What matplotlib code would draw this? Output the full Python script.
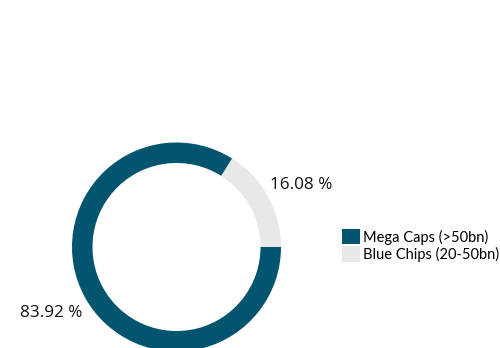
import matplotlib.pyplot as plt
from matplotlib.patches import Patch

# data
labels = ["Mega Caps (>50bn)", "Blue Chips (20-50bn)"]
shares = [83.92, 16.08]
colors = ["#02546F", "#E8E8E8"]

W, H = 500, 348
cx, cy = 176.5, 101.0   # ring centre in pixels (from bottom)
R = 104.5               # outer radius in pixels

fig = plt.figure(figsize=(W / 100, H / 100), dpi=100)
ax = fig.add_axes([0, 0, 1, 1])

# Blue Chips drawn first, counter-clockwise from 3 o'clock
ax.pie(shares[::-1], colors=colors[::-1], startangle=0, counterclock=True,
       radius=1.0, wedgeprops=dict(width=0.196, edgecolor="none"))

ax.set_aspect("auto")
ax.set_xlim(-cx / R, (W - cx) / R)
ax.set_ylim(-cy / R, (H - cy) / R)
ax.axis("off")

# value labels
ax.text(1.195, 0.593, "{:.2f} %".format(shares[1]), ha="center", va="center",
        fontsize=12.3, family="Open Sans", color="#111111")
ax.text(-1.20, -0.632, "{:.2f} %".format(shares[0]), ha="center", va="center",
        fontsize=12.3, family="Open Sans", color="#111111")

handles = [Patch(facecolor=c, edgecolor="none", label=l) for c, l in zip(colors, labels)]
fig.legend(handles=handles, loc="upper left", bbox_to_anchor=(342 / W, 1 - 229 / H),
           frameon=False, borderpad=0, borderaxespad=0, handlelength=1.24,
           handleheight=1.24, handletextpad=0.2, labelspacing=0.12,
           prop=dict(family="Lato", size=10.5))

fig.savefig("out.png", dpi=100)
